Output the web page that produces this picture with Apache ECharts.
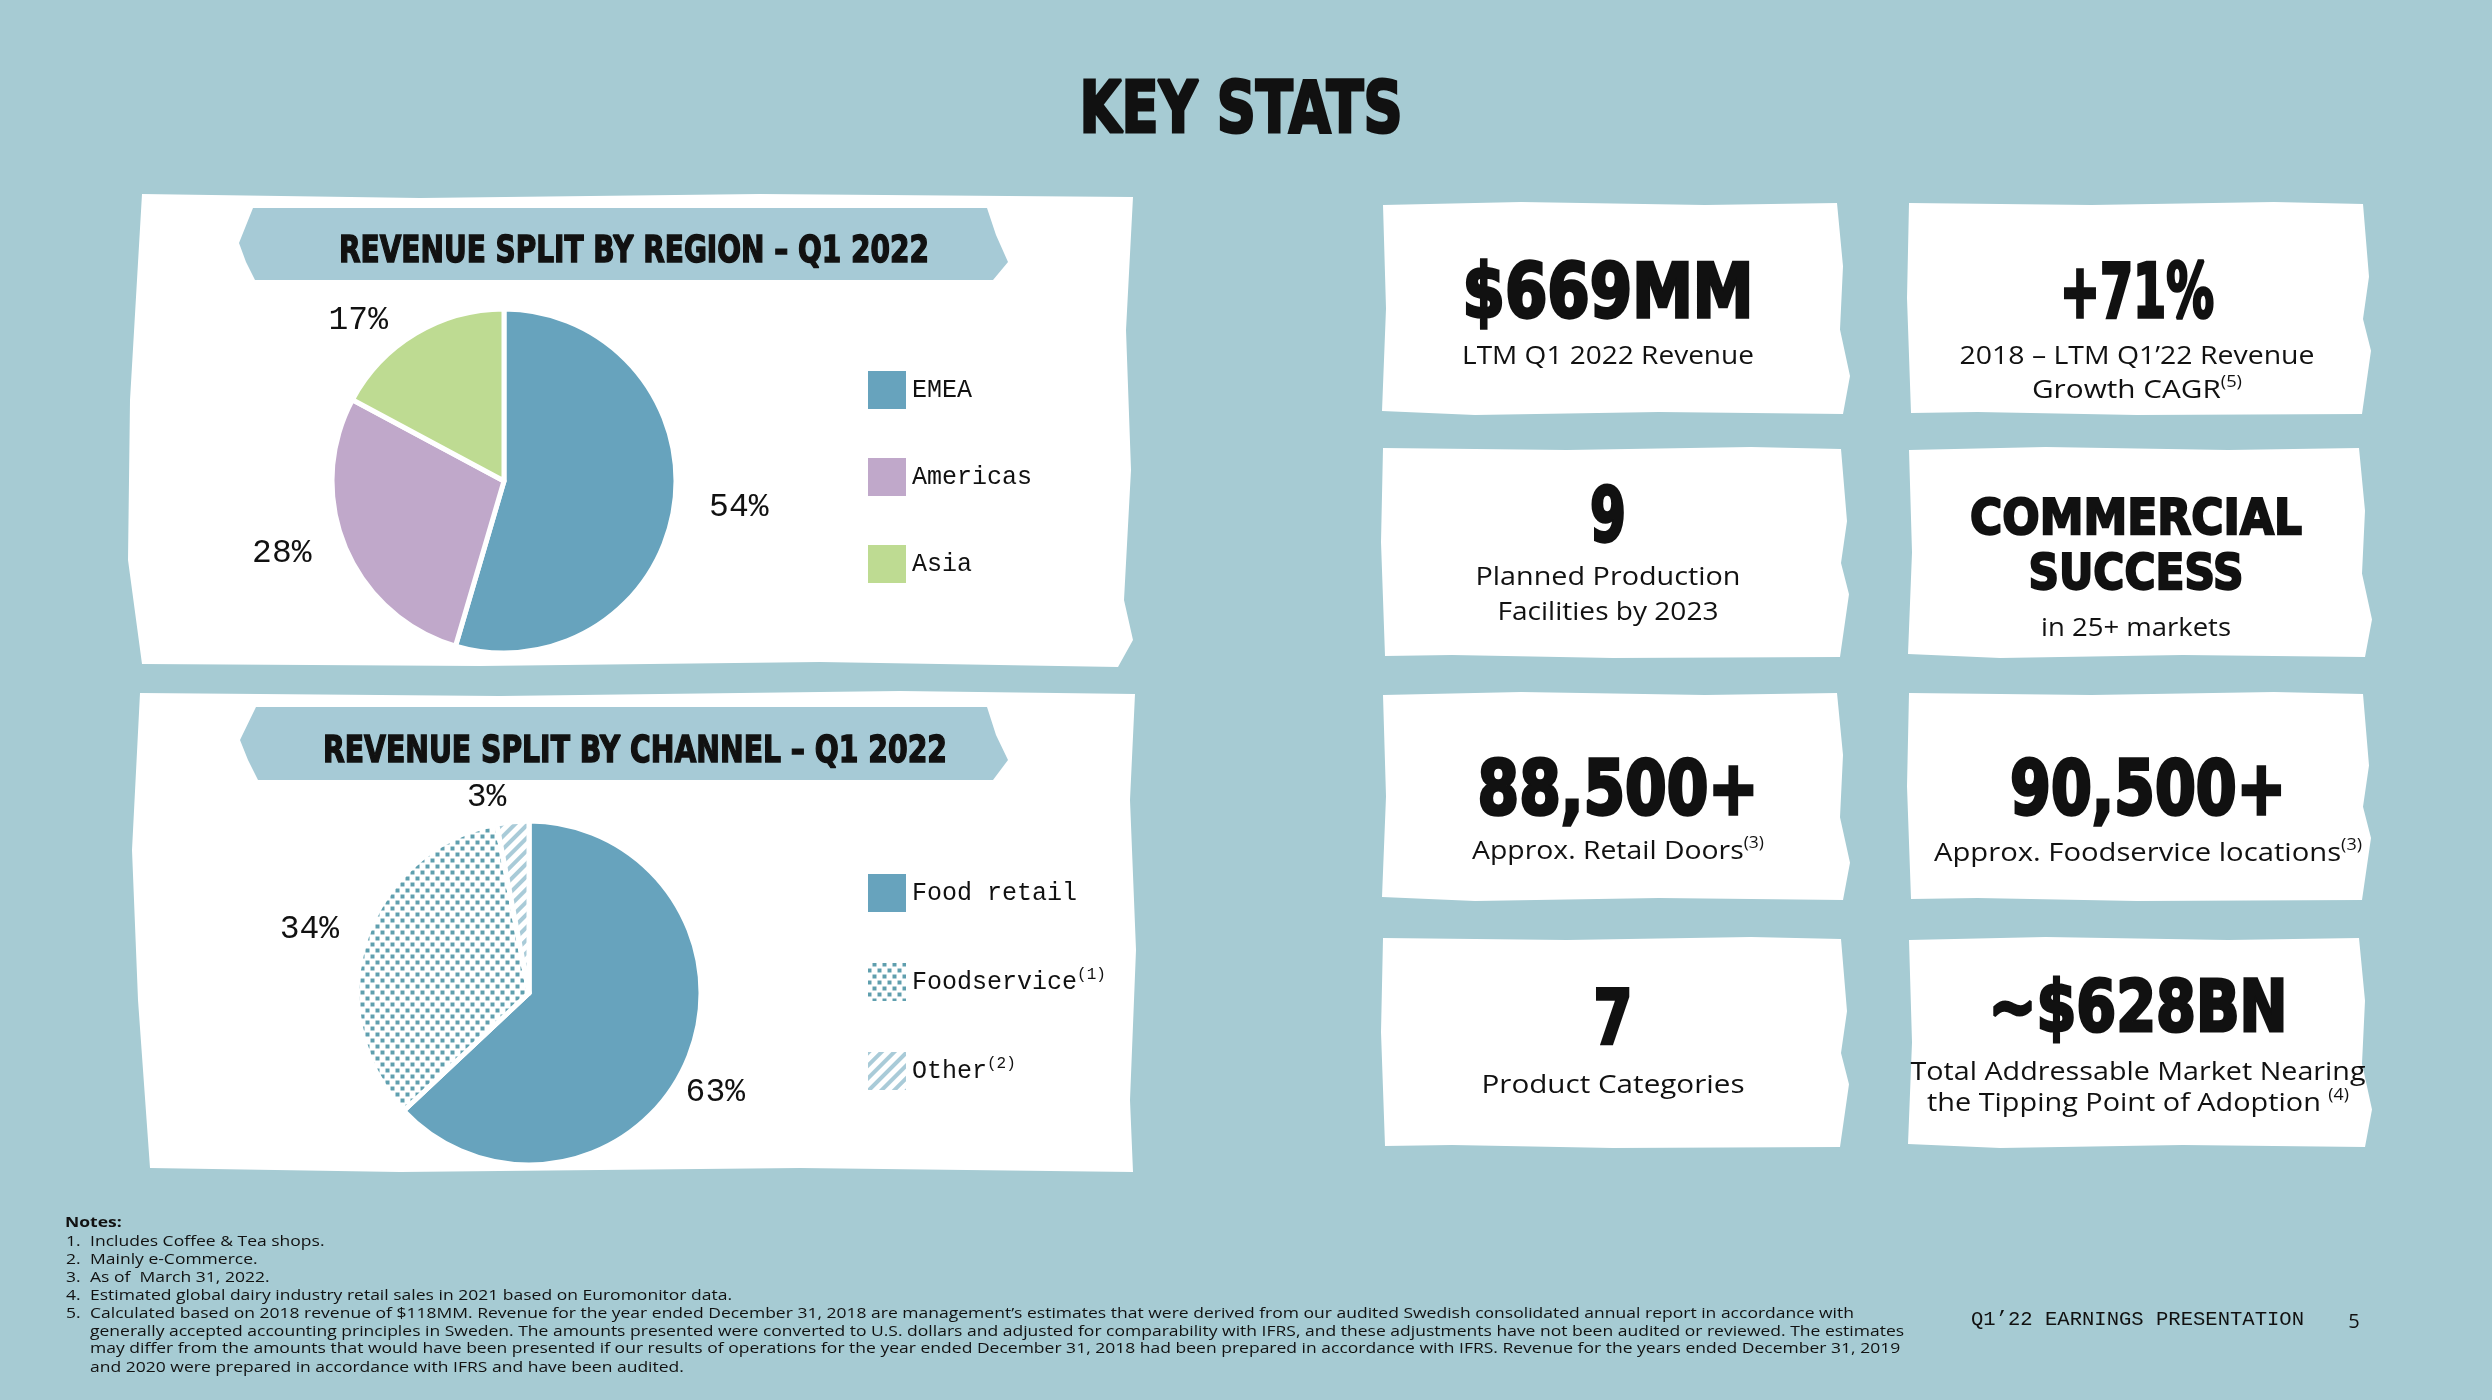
<!DOCTYPE html>
<html><head><meta charset="utf-8">
<script src="https://cdn.jsdelivr.net/npm/echarts@6/dist/echarts.min.js"></script>
<style>html,body{margin:0;padding:0;background:#a6cbd3}#c{width:2492px;height:1400px}</style>
</head><body><div id="c"></div><script>
// ---------- data ----------
const pageTitle = 'KEY STATS';
const regionTitle = 'REVENUE SPLIT BY REGION – Q1 2022';
const channelTitle = 'REVENUE SPLIT BY CHANNEL – Q1 2022';
const regionNames = ['EMEA', 'Americas', 'Asia'];
const regionValues = [54, 28, 17];
const channelNames = ['Food retail', 'Foodservice', 'Other'];
const channelValues = [63, 34, 3];
const channelNotes = ['', '(1)', '(2)'];
const statValues = ['$669MM', '+71%', '9', 'COMMERCIAL\nSUCCESS', '88,500+', '90,500+', '7', '~$628BN'];
const statLabels = [
  ['LTM Q1 2022 Revenue'],
  ['2018 – LTM Q1’22 Revenue', 'Growth CAGR|(5)'],
  ['Planned Production', 'Facilities by 2023'],
  ['in 25+ markets'],
  ['Approx. Retail Doors|(3)'],
  ['Approx. Foodservice locations|(3)'],
  ['Product Categories'],
  ['Total Addressable Market Nearing', 'the Tipping Point of Adoption |(4)']
];
const notesHeader = 'Notes:';
const notesItems = [
  ['1.', 'Includes Coffee & Tea shops.'],
  ['2.', 'Mainly e-Commerce.'],
  ['3.', 'As of  March 31, 2022.'],
  ['4.', 'Estimated global dairy industry retail sales in 2021 based on Euromonitor data.'],
  ['5.', 'Calculated based on 2018 revenue of $118MM. Revenue for the year ended December 31, 2018 are management’s estimates that were derived from our audited Swedish consolidated annual report in accordance with'],
  ['', 'generally accepted accounting principles in Sweden. The amounts presented were converted to U.S. dollars and adjusted for comparability with IFRS, and these adjustments have not been audited or reviewed. The estimates'],
  ['', 'may differ from the amounts that would have been presented if our results of operations for the year ended December 31, 2018 had been prepared in accordance with IFRS. Revenue for the years ended December 31, 2019'],
  ['', 'and 2020 were prepared in accordance with IFRS and have been audited.']
];
const footerText = 'Q1’22 EARNINGS PRESENTATION';
const pageNumber = '5';

// ---------- styling / layout ----------
const regionColors = ['#67a3bd', '#c0a8ca', '#bedb92'];
const BLUE = '#67a3bd';
const MONO = '"Liberation Mono", "DejaVu Sans Mono", monospace';
const HEAVY = '"DejaVu Sans", sans-serif';
const BODY = '"Open Sans", "Lato", sans-serif';
const INK = '#111111';

const ctx = document.createElement('canvas').getContext('2d');
function measure(text, font) { ctx.font = font; return ctx.measureText(text).width; }

const graphics = [];
function addText(text, x, y, font, targetW, align, strokeW, scaleFixed) {
  const w = measure(text, font);
  const s = scaleFixed ? scaleFixed : (targetW ? targetW / w : 1);
  const style = {text: text, font: font, fill: INK, align: align || 'center', verticalAlign: 'middle'};
  if (strokeW) { style.stroke = INK; style.lineWidth = strokeW; style.lineJoin = 'round'; }
  graphics.push({type: 'text', x: x, y: y, scaleX: s, z: 5, silent: true, style: style});
}
// centered text with optional superscript after '|'
function addSupText(str, cx, y, size, family, targetW) {
  const parts = str.split('|');
  const font = size + 'px ' + family;
  const supFont = Math.round(size * 0.62) + 'px ' + family;
  const mw = measure(parts[0], font);
  const sw = parts[1] ? measure(parts[1], supFont) : 0;
  const s = targetW ? targetW / (mw + sw) : 1;
  const start = cx - (mw + sw) * s / 2;
  graphics.push({type: 'text', x: start, y: y, scaleX: s, z: 5, silent: true,
    style: {text: parts[0], font: font, fill: INK, align: 'left', verticalAlign: 'middle'}});
  if (parts[1]) {
    graphics.push({type: 'text', x: start + mw * s, y: y - size * 0.32, scaleX: s, z: 5, silent: true,
      style: {text: parts[1], font: supFont, fill: INK, align: 'left', verticalAlign: 'middle'}});
  }
}
function poly(points, color, z) {
  graphics.push({type: 'polygon', z: z || 1, silent: true, shape: {points: points}, style: {fill: color}});
}

// left white panels
poly([[142,194],[420,198],[760,194],[1133,197],[1126,330],[1131,470],[1124,600],[1133,640],[1118,667],[820,662],[480,666],[142,664],[128,560],[130,400]], '#ffffff');
poly([[140,693],[500,696],[900,691],[1135,694],[1130,800],[1136,950],[1130,1100],[1133,1172],[800,1168],[400,1172],[150,1168],[138,1000],[132,850]], '#ffffff');
// title banners
poly([[253,208],[987,208],[996,235],[1008,262],[993,280],[255,280],[246,262],[239,243]], '#a6cad6', 2);
poly([[256,707],[987,707],[996,735],[1008,760],[993,780],[258,780],[248,760],[240,740]], '#a6cad6', 2);

// stat cards
const cardCols = [[1383, 1843], [1909, 2365]];
const cardRows = [[203, 414], [448, 657], [693, 900], [938, 1147]];
const jig = [
  [0,2, 0.3,-1, 0.7,2, -6,0, 0,0.3, -3,0.6, 7,0.82, 0,1, 0.6,-2, 0.2,1, -1,-3, 3,0.5],
  [0,0, 0.4,2, 0.8,-1, -2,1, 4,0.35, -2,0.55, 6,0.7, -3,1, 0.5,1, 0.15,-2, 2,-1, -2,0.45]
];
function card(x0, y0, x1, y1, v) {
  const j = jig[v % 2], w = x1 - x0, h = y1 - y0;
  poly([
    [x0 + j[0], y0 + j[1]], [x0 + j[2] * w, y0 + j[3]], [x0 + j[4] * w, y0 + j[5]], [x1 + j[6], y0 + j[7]],
    [x1 + j[8], y0 + j[9] * h], [x1 + j[10], y0 + j[11] * h], [x1 + j[12], y0 + j[13] * h], [x1 + j[14], y0 + j[15] * h],
    [x0 + j[16] * w, y1 + j[17]], [x0 + j[18] * w, y1 + j[19]], [x0 + j[20], y1 + j[21]], [x0 + j[22], y0 + j[23] * h]
  ], '#ffffff');
}
const cardLayout = [
  {cx: 1608, bigY: [292], size: 75, bigW: [291], subY: [357], subW: [292]},
  {cx: 2137, bigY: [292], size: 75, bigW: [154], subY: [357, 391], subW: [355, 210]},
  {cx: 1608, bigY: [516], size: 75, bigW: [36], subY: [578, 613], subW: [265, 221]},
  {cx: 2136, bigY: [518, 573], size: 50, bigW: [332, 215], subY: [629], subW: [190]},
  {cx: 1618, bigY: [789], size: 75, bigW: [281], subY: [852], subW: [292]},
  {cx: 2148, bigY: [789], size: 75, bigW: [276], subY: [854], subW: [428]},
  {cx: 1613, bigY: [1018], size: 75, bigW: [39], subY: [1086], subW: [263]},
  {cx: 2138, bigY: [1007], size: 72, bigW: [299], subY: [1073, 1104], subW: [455, 422]}
];
statValues.forEach(function (val, i) {
  const col = i % 2, row = Math.floor(i / 2);
  card(cardCols[col][0], cardRows[row][0], cardCols[col][1], cardRows[row][1], i + row);
  const L = cardLayout[i];
  val.split('\n').forEach(function (line, k) {
    addText(line, L.cx, L.bigY[k] + L.size * 0.07, 'bold ' + L.size + 'px ' + HEAVY, L.bigW[k], 'center', L.size * 0.045);
  });
  statLabels[i].forEach(function (line, k) {
    addSupText(line, L.cx, L.subY[k], 26, BODY, L.subW[k]);
  });
});

// titles
addText(pageTitle, 1241, 113, 'bold 72px ' + HEAVY, 323, 'center', 3);
addText(regionTitle, 634, 252, 'bold 38px ' + HEAVY, 590, 'center', 1.5);
addText(channelTitle, 635, 752, 'bold 38px ' + HEAVY, 624, 'center', 1.5);

// notes
const noteFont = '15px ' + BODY;
const noteScale = 1764 / measure(notesItems[4][1], noteFont);
addText(notesHeader, 65, 1223, 'bold ' + noteFont, 0, 'left', 0, noteScale);
const noteY = [1242, 1260, 1278, 1296, 1314, 1332, 1349, 1368];
notesItems.forEach(function (it, k) {
  if (it[0]) addText(it[0], 66, noteY[k], noteFont, 0, 'left', 0, noteScale);
  addText(it[1], 90, noteY[k], noteFont, 0, 'left', 0, noteScale);
});
// footer
addText(footerText, 1971, 1320, '20px ' + MONO, 333, 'left');
addText(pageNumber, 2354, 1322, '20px ' + BODY, 0, 'center');

// ---------- chart ----------
const chart = echarts.init(document.getElementById('c'), null, {renderer: 'canvas'});
const labelStyle = {show: true, position: 'outside', formatter: '{c}%', fontFamily: MONO, fontSize: 33, color: INK};
const channelStyles = [
  {color: BLUE},
  {color: '#ffffff', decal: {symbol: 'rect', symbolSize: 0.8, color: '#5f9fae',
    dashArrayX: [[5, 5], [0, 5, 5, 0]], dashArrayY: [5, 1], rotation: 0}},
  {color: '#ffffff', decal: {symbol: 'rect', symbolSize: 1, color: '#a9cbd8',
    dashArrayX: [1, 0], dashArrayY: [4, 5], rotation: -Math.PI / 4}}
];
const channelLabelShift = [[-35, 25], [8, -6], [15, -10]];
chart.setOption({
  backgroundColor: '#a6cbd3',
  animation: false,
  graphic: graphics,
  legend: [
    {data: regionNames, orient: 'vertical', left: 866, top: 369, padding: 0, itemWidth: 40, itemHeight: 40, itemGap: 45,
      icon: 'rect', selectedMode: false, textStyle: {fontFamily: MONO, fontSize: 25, color: INK}},
    {data: channelNames, orient: 'vertical', left: 866, top: 872, padding: 0, itemWidth: 40, itemHeight: 40, itemGap: 47,
      icon: 'rect', selectedMode: false,
      formatter: function (n) { const k = channelNames.indexOf(n); return channelNotes[k] ? n + '{sup|' + channelNotes[k] + '}' : n; },
      textStyle: {fontFamily: MONO, fontSize: 25, color: INK,
        rich: {sup: {fontFamily: MONO, fontSize: 16, color: INK, padding: [0, 0, 14, 0]}}}}
  ],
  series: [
    {type: 'pie', name: 'region', center: [504, 481], radius: 172, startAngle: 90, clockwise: true,
      avoidLabelOverlap: false, label: labelStyle, labelLine: {show: false, length: 15, length2: 15},
      itemStyle: {borderColor: '#ffffff', borderWidth: 5}, emphasis: {disabled: true},
      data: regionNames.map(function (n, i) { return {name: n, value: regionValues[i], itemStyle: {color: regionColors[i]}}; })},
    {type: 'pie', name: 'channel', center: [529, 993], radius: 172, startAngle: 90, clockwise: true,
      avoidLabelOverlap: false, label: labelStyle, labelLine: {show: false, length: 15, length2: 15},
      itemStyle: {borderColor: '#ffffff', borderWidth: 5}, emphasis: {disabled: true},
      data: channelNames.map(function (n, i) { return {name: n, value: channelValues[i], itemStyle: channelStyles[i],
        label: {offset: channelLabelShift[i]}}; })}
  ]
});
</script></body></html>
